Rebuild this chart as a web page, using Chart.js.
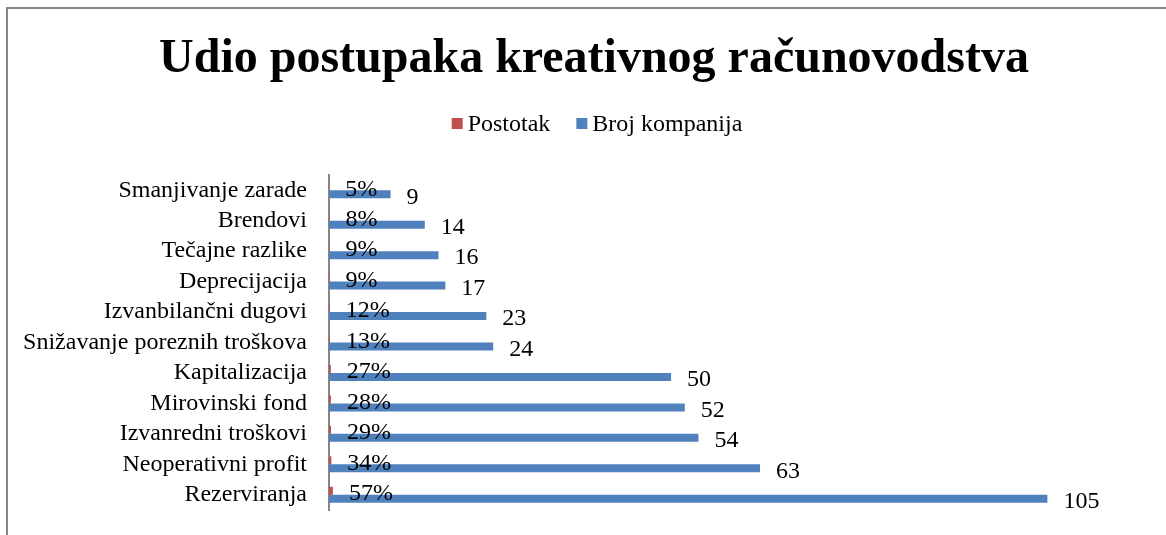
<!DOCTYPE html>
<html>
<head>
<meta charset="utf-8">
<script src="https://cdn.jsdelivr.net/npm/chart.js@4.4.1/dist/chart.umd.min.js"></script>
<style>
    html, body { margin: 0; padding: 0; background: #fff; }
    #wrap { width: 1166px; height: 535px; position: relative; }
</style>
</head>
<body>
<div id="wrap"><canvas id="chart"></canvas></div>
<script>
// categories top to bottom
let categories = [
    'Smanjivanje zarade', 'Brendovi', 'Tečajne razlike', 'Deprecijacija',
    'Izvanbilančni dugovi', 'Snižavanje poreznih troškova', 'Kapitalizacija',
    'Mirovinski fond', 'Izvanredni troškovi', 'Neoperativni profit', 'Rezerviranja'
];
let postotak = [0.05, 0.08, 0.09, 0.09, 0.12, 0.13, 0.27, 0.28, 0.29, 0.34, 0.57];
let brojKompanija = [9, 14, 16, 17, 23, 24, 50, 52, 54, 63, 105];

const FONT = "'Liberation Serif', 'Times New Roman', serif";

// outer frame (left + top edge visible)
let framePlugin = {
    id: 'frame',
    beforeDraw(chart) {
        let ctx = chart.ctx;
        ctx.save();
        ctx.fillStyle = '#fff';
        ctx.fillRect(0, 0, chart.width, chart.height);
        ctx.strokeStyle = '#878787';
        ctx.lineWidth = 2;
        ctx.beginPath();
        ctx.moveTo(7, chart.height);
        ctx.lineTo(7, 8);
        ctx.lineTo(chart.width, 8);
        ctx.stroke();
        ctx.restore();
    },
    // let the long category labels use the space left of the padding
    afterLayout(chart) {
        chart.scales.y.left = 0;
    }
};

// value labels at the bar ends
let labelPlugin = {
    id: 'barLabels',
    afterDatasetsDraw(chart) {
        let ctx = chart.ctx;
        ctx.save();
        ctx.font = '24px ' + FONT;
        ctx.fillStyle = '#000';
        ctx.textAlign = 'left';
        ctx.textBaseline = 'middle';
        chart.data.datasets.forEach((ds, i) => {
            chart.getDatasetMeta(i).data.forEach((bar, j) => {
                let v = ds.data[j];
                let txt = i === 0 ? Math.round(v * 100) + '%' : String(v);
                ctx.fillText(txt, bar.x + 16, bar.y + 3);
            });
        });
        ctx.restore();
    }
};

// legend drawn Excel-like (small gap between box and text)
let legendPlugin = {
    id: 'excelLegend',
    afterDraw(chart) {
        let ctx = chart.ctx;
        ctx.save();
        ctx.font = '24px ' + FONT;
        ctx.textBaseline = 'middle';
        ctx.textAlign = 'left';
        let items = chart.data.datasets.map(ds => ({
            text: ds.label,
            color: ds.backgroundColor,
            w: ctx.measureText(ds.label).width,
        }));
        let total = 0;
        items.forEach((it, i) => {
            total += 11 + 5 + it.w + (i < items.length - 1 ? 26 : 0);
        });
        let x = 597 - total / 2;
        let cy = 124;
        items.forEach(it => {
            ctx.fillStyle = it.color;
            ctx.fillRect(x, cy - 6, 11, 11);
            ctx.fillStyle = '#000';
            ctx.fillText(it.text, x + 16, cy + 1);
            x += 11 + 5 + it.w + 26;
        });
        ctx.restore();
    }
};

new Chart(document.getElementById('chart'), {
    type: 'bar',
    data: {
        labels: categories,
        datasets: [
            {
                label: 'Postotak',
                data: postotak,
                backgroundColor: '#C0504D',
                categoryPercentage: 0.525,
                barPercentage: 1.0,
            },
            {
                label: 'Broj kompanija',
                data: brojKompanija,
                backgroundColor: '#4F81BD',
                categoryPercentage: 0.525,
                barPercentage: 1.0,
            },
        ]
    },
    options: {
        indexAxis: 'y',
        responsive: true,
        maintainAspectRatio: false,
        animation: false,
        layout: {
            autoPadding: false,
            padding: { left: 38, right: 16, top: 0, bottom: 25 }
        },
        plugins: {
            title: {
                display: true,
                text: 'Udio postupaka kreativnog računovodstva',
                color: '#000',
                font: { family: FONT, size: 48, weight: 'bold', lineHeight: 1.2 },
                padding: { top: 31, bottom: 86.4 },
            },
            legend: { display: false },
            tooltip: { enabled: false },
        },
        scales: {
            x: {
                display: false,
                min: 0,
                max: 120,
            },
            y: {
                // invisible tick marks give the gap between labels and axis
                grid: {
                    display: true,
                    drawOnChartArea: false,
                    drawTicks: true,
                    tickLength: 22,
                    color: 'rgba(0,0,0,0)',
                },
                border: { display: true, color: '#868686', width: 2 },
                ticks: {
                    color: '#000',
                    font: { family: FONT, size: 24 },
                    padding: 0,
                    autoSkip: false,
                },
                afterFit: function (scale) {
                    scale.width = 291;
                },
            },
        },
    },
    plugins: [framePlugin, labelPlugin, legendPlugin],
});
</script>
</body>
</html>
